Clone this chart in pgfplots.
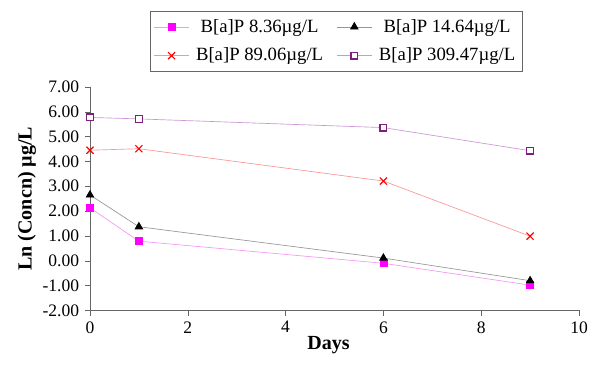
\documentclass[border=0pt]{standalone}
\usepackage{pgfplots}
\pgfplotsset{compat=1.18}
\usepackage{fontspec}
\setmainfont{Liberation Serif}
\definecolor{lmag}{RGB}{245,150,245}
\definecolor{lgray}{RGB}{150,150,150}
\definecolor{lred}{RGB}{250,150,150}
\definecolor{lpur}{RGB}{205,150,215}
\definecolor{dpur}{RGB}{128,30,128}
\definecolor{pmag}{RGB}{255,0,255}
\begin{document}
\begin{tikzpicture}
\begin{axis}[
  width=293pt, height=134pt, scale only axis,
  xmin=0, xmax=10, ymin=-2, ymax=7,
  axis x line*=bottom, axis y line*=left,
  axis line style={gray!80!black, -},
  xtick={0,2,4,6,8,10},
  ytick={-2,-1,0,1,2,3,4,5,6,7},
  tick align=outside,
  major tick length=3pt,
  tick style={gray!80!black},
  /pgf/number format/assume math mode=true,
  yticklabel style={/pgf/number format/.cd, fixed, fixed zerofill, precision=2},
  ticklabel style={font=\fontsize{10.5}{12}\selectfont},
  xlabel={\textbf{Days}}, ylabel={\textbf{Ln (Concn) µg/L}},
  label style={font=\fontsize{12}{13}\selectfont},
  xlabel style={yshift=5pt, xshift=-3.6pt},
  ylabel style={yshift=-3pt},
  clip=false,
  legend columns=2,
  legend image code/.code={\draw[mark repeat=2, mark phase=2, #1] plot coordinates {(0pt,0pt) (10.5pt,0pt) (21pt,0pt)};},
  legend style={at={(rel axis cs:0.1227,1.338)}, anchor=north west,
    font=\fontsize{11.2}{13}\selectfont, draw=gray!80!black, inner xsep=2pt, inner ysep=2.5pt,
    row sep=4pt,
    /tikz/every odd column/.append style={column sep=2pt},
    /tikz/every even column/.append style={column sep=6pt}},
]
\addplot[color=lmag, mark=square*, mark options={fill=pmag, draw=pmag}, mark size=2.1pt] coordinates {(0,2.13) (1,0.79) (6,-0.10) (9,-0.98)};
\addlegendentry{B[a]P 8.36µg/L}
\addplot[color=lgray, mark=triangle*, mark options={fill=black, draw=black}, mark size=2.6pt] coordinates {(0,2.65) (1,1.37) (6,0.11) (9,-0.80)};
\addlegendentry{B[a]P 14.64µg/L}
\addplot[color=lred, mark=x, mark options={draw=red, line width=0.7pt}, mark size=3pt] coordinates {(0,4.45) (1,4.51) (6,3.21) (9,0.99)};
\addlegendentry{B[a]P 89.06µg/L}
\addplot[color=lpur, mark=square*, mark options={draw=dpur, fill=white, line width=0.7pt}, mark size=2.0pt] coordinates {(0,5.77) (1,5.71) (6,5.36) (9,4.43)};
\addlegendentry{B[a]P 309.47µg/L}
\coordinate (bl) at (rel axis cs:-0.184,-0.2411);
\coordinate (tr) at (rel axis cs:1.0245,1.3884);
\end{axis}
\pgfresetboundingbox
\path (bl) rectangle (tr);
\end{tikzpicture}
\end{document}
